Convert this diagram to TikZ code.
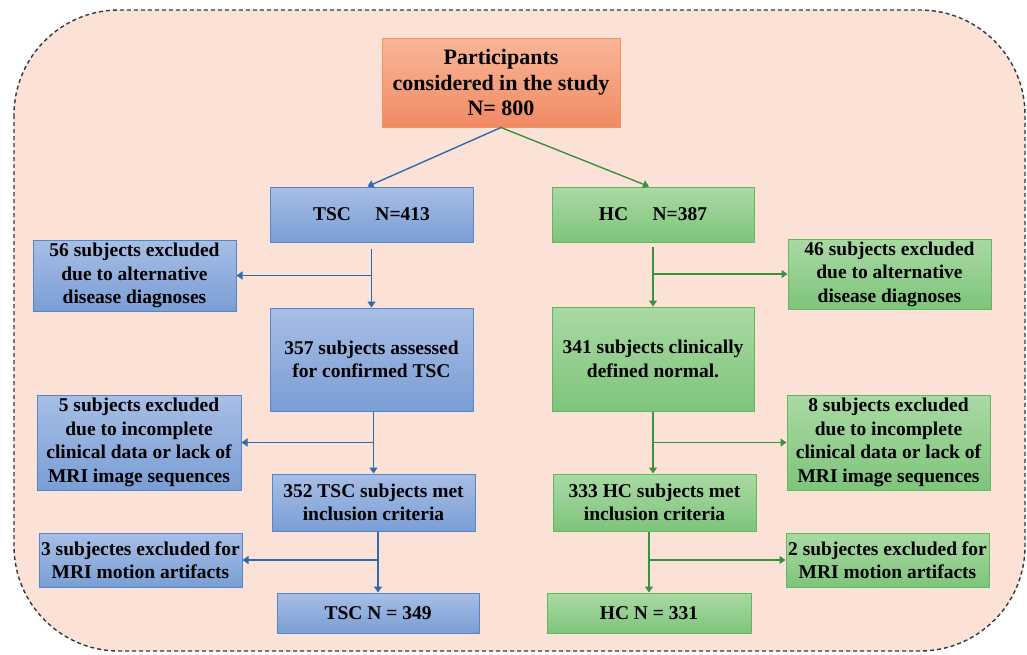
\documentclass[tikz,border=0pt]{standalone}
\usepackage{fontspec}
\setmainfont{Liberation Serif}
\usetikzlibrary{arrows.meta,calc}

\definecolor{bgpeach}{RGB}{252,226,214}
\definecolor{framegray}{RGB}{55,55,55}
\definecolor{orTop}{RGB}{248,182,152}
\definecolor{orBot}{RGB}{241,138,100}
\definecolor{orLine}{RGB}{243,150,92}
\definecolor{blTop}{RGB}{168,190,229}
\definecolor{blBot}{RGB}{122,158,213}
\definecolor{blLine}{RGB}{84,134,202}
\definecolor{grTop}{RGB}{170,217,164}
\definecolor{grBot}{RGB}{126,196,123}
\definecolor{grLine}{RGB}{96,186,92}
\definecolor{blArrow}{RGB}{46,106,172}
\definecolor{grArrow}{RGB}{58,145,64}

\tikzset{
  txt/.style={font=\bfseries\fontsize{19.5}{23.5}\selectfont, align=center, inner sep=0pt, text=black},
  startbox/.style={txt, font=\bfseries\fontsize{22}{25.5}\selectfont, draw=orLine, line width=1pt, top color=orTop, bottom color=orBot},
  tscbox/.style={txt, draw=blLine, line width=1pt, top color=blTop, bottom color=blBot},
  hcbox/.style={txt, draw=grLine, line width=1pt, top color=grTop, bottom color=grBot},
  bline/.style={draw=blArrow, line width=1.4pt},
  gline/.style={draw=grArrow, line width=1.4pt},
  barrow/.style={bline, -{Triangle[width=8pt,length=6pt]}},
  garrow/.style={gline, -{Triangle[width=8pt,length=6pt]}},
}

\begin{document}
\begin{tikzpicture}[x=1pt, y=-1pt]
  \useasboundingbox (0,0) rectangle (1027,654);

  % peach panel with dashed rounded frame
  \draw[fill=bgpeach, draw=framegray, line width=1.4pt, dash pattern=on 4pt off 3pt, rounded corners=105pt]
    (14,10) rectangle (1025,651);

  % start
  \node[startbox, minimum width=238pt, minimum height=89pt] (start) at (501,82.5)
    {Participants\\considered in the study\\N= 800};

  % TSC column
  \node[tscbox, minimum width=203pt, minimum height=55pt] (tsc1) at (371.5,214.5) {TSC\quad\ N=413};
  \node[tscbox, minimum width=203pt, minimum height=103pt] (tsc2) at (371.5,359.5) {357 subjects assessed\\for confirmed TSC};
  \node[tscbox, minimum width=203pt, minimum height=57pt] (tsc3) at (373.5,502.5) {352 TSC subjects met\\inclusion criteria};
  \node[tscbox, minimum width=202pt, minimum height=40pt] (tsc4) at (378,613) {TSC N = 349};

  \node[tscbox, minimum width=203pt, minimum height=71pt] (tex1) at (134.5,275.5) {56 subjects excluded\\due to alternative\\disease diagnoses};
  \node[tscbox, minimum width=204pt, minimum height=95pt] (tex2) at (139,442.5) {5 subjects excluded\\due to incomplete\\clinical data or lack of\\MRI image sequences};
  \node[tscbox, minimum width=203pt, minimum height=54pt] (tex3) at (140.5,560) {3 subjectes excluded for\\MRI motion artifacts};

  % HC column
  \node[hcbox, minimum width=202pt, minimum height=55pt] (hc1) at (653,214.5) {HC\quad\ N=387};
  \node[hcbox, minimum width=202pt, minimum height=104pt] (hc2) at (653,359) {341 subjects clinically\\defined normal.};
  \node[hcbox, minimum width=203pt, minimum height=57pt] (hc3) at (654.5,502.5) {333 HC subjects met\\inclusion criteria};
  \node[hcbox, minimum width=204pt, minimum height=40pt] (hc4) at (649,613) {HC N = 331};

  \node[hcbox, minimum width=203pt, minimum height=70pt] (hex1) at (889.5,274) {46 subjects excluded\\due to alternative\\disease diagnoses};
  \node[hcbox, minimum width=203pt, minimum height=95pt] (hex2) at (888.5,442.5) {8 subjects excluded\\due to incomplete\\clinical data or lack of\\MRI image sequences};
  \node[hcbox, minimum width=203pt, minimum height=54pt] (hex3) at (887.5,560) {2 subjectes excluded for\\MRI motion artifacts};

  % split into the two groups
  \draw[barrow] (start.south) -- ($(tsc1.north)+(-4,0)$);
  \draw[garrow] (start.south) -- ($(hc1.north)+(-4,0)$);

  % TSC flow
  \draw[barrow] ($(tsc1.south)+(0,6)$) -- (tsc2.north);
  \draw[barrow] (tsc1.south |- tex1.east) -- (tex1.east);
  \draw[barrow] (tsc3.north |- tsc2.south) -- (tsc3.north);
  \draw[barrow] (tsc3.north |- tex2.east) -- (tex2.east);
  \draw[barrow] (tsc4.north |- tsc3.south) -- (tsc4.north);
  \draw[barrow] (tsc4.north |- tex3.east) -- (tex3.east);

  % HC flow
  \draw[garrow] ($(hc1.south)+(0,4)$) -- (hc2.north);
  \draw[garrow] (hc1.south |- hex1.west) -- (hex1.west);
  \draw[garrow] (hc2.south) -- (hc2.south |- hc3.north);
  \draw[garrow] (hc2.south |- hex2.west) -- (hex2.west);
  \draw[garrow] (hc4.north |- hc3.south) -- (hc4.north);
  \draw[garrow] (hc4.north |- hex3.west) -- (hex3.west);
\end{tikzpicture}
\end{document}
